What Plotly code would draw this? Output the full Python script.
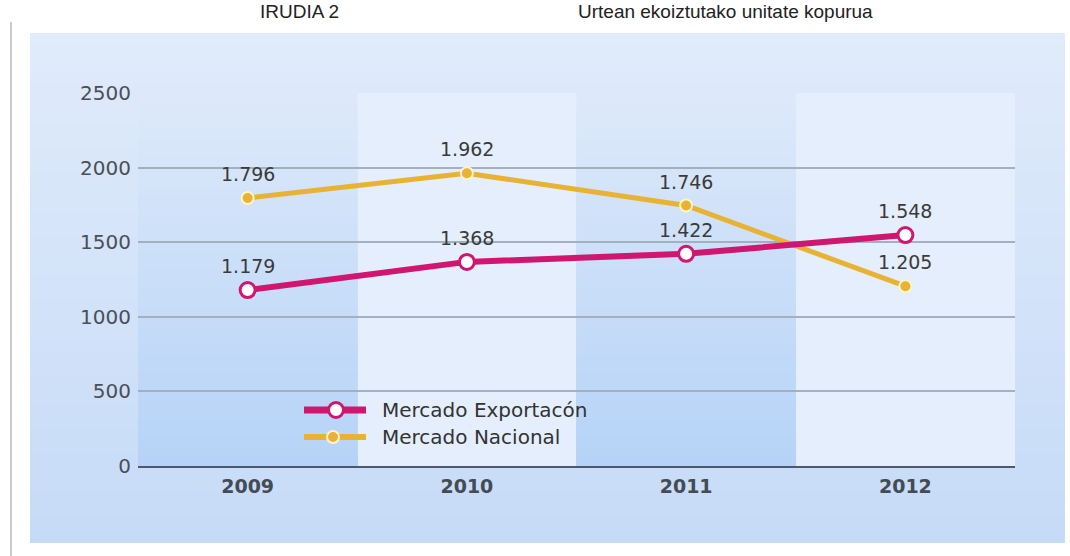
import plotly.graph_objects as go

# Units produced per year, by market
years = ["2009", "2010", "2011", "2012"]
export_units = [1179, 1368, 1422, 1548]
national_units = [1796, 1962, 1746, 1205]
y_ticks = [0, 500, 1000, 1500, 2000, 2500]
series_names = ["Mercado Exportacón", "Mercado Nacional"]

W, H = 1070, 556
ML, MR, MT, MB = 138, 55, 93, 90
PW, PH = W - ML - MR, H - MT - MB

MAGENTA = "#d0166f"
YELLOW = "#e8b233"
FONT = "DejaVu Sans, Verdana, sans-serif"
TITLE_FONT = "Liberation Sans, Arial, sans-serif"


def px(x):
    return (x - ML) / PW


def py(y):
    return (H - MB - y) / PH


def mix(c1, c2, t):
    a = [int(c1[i:i + 2], 16) for i in (1, 3, 5)]
    b = [int(c2[i:i + 2], 16) for i in (1, 3, 5)]
    return "#" + "".join(f"{round(a[k] + (b[k] - a[k]) * t):02x}" for k in range(3))


shapes = []

# outer panel with a soft vertical gradient; each strip runs to the bottom
# so the next one covers its lower edge and no seams show
n_strips = 40
x0p, x1p = px(30), px(1065)
top_px, bot_px = 33, 543
for i in range(n_strips):
    ya = top_px + (bot_px - top_px) * i / n_strips
    shapes.append(dict(type="rect", xref="paper", yref="paper", layer="below",
                       x0=x0p, x1=x1p, y0=py(bot_px), y1=py(ya),
                       fillcolor=mix("#e0ebfb", "#c6dbf7", i / (n_strips - 1)),
                       line=dict(width=0)))
# thin frame line on the left
shapes.append(dict(type="line", xref="paper", yref="paper", layer="below",
                   x0=px(11), x1=px(11), y0=py(556), y1=py(22),
                   line=dict(color="#c9c9c9", width=2)))

# light plot background
shapes.append(dict(type="rect", xref="x", yref="y", layer="below",
                   x0=-0.5, x1=len(years) - 0.5, y0=0, y1=y_ticks[-1],
                   fillcolor="#e4eefc", line=dict(width=0)))

# darker alternating column bands (2009, 2011) with gradient
for idx in range(0, len(years), 2):
    for i in range(n_strips):
        ya = y_ticks[-1] * (1 - i / n_strips)
        shapes.append(dict(type="rect", xref="x", yref="y", layer="below",
                           x0=idx - 0.5, x1=idx + 0.5, y0=0, y1=ya,
                           fillcolor=mix("#dde9fa", "#b6d3f7", i / (n_strips - 1)),
                           line=dict(width=0)))

fig = go.Figure()
xs = list(range(len(years)))

fig.add_trace(go.Scatter(
    x=xs, y=national_units, mode="lines+markers", name=series_names[1],
    line=dict(color=YELLOW, width=5),
    marker=dict(size=12, color=YELLOW, line=dict(color="#fff4c8", width=2)),
    cliponaxis=False))
fig.add_trace(go.Scatter(
    x=xs, y=export_units, mode="lines+markers", name=series_names[0],
    line=dict(color=MAGENTA, width=6),
    marker=dict(size=15, color="#ffffff", line=dict(color=MAGENTA, width=3)),
    cliponaxis=False))


def fmt(v):
    return f"{v:,}".replace(",", ".")


annotations = []
for series in (export_units, national_units):
    for x, v in zip(xs, series):
        annotations.append(dict(x=x, y=v, xref="x", yref="y", text=fmt(v),
                                showarrow=False, yshift=24,
                                font=dict(family=FONT, size=19, color="#3a3a3a")))

# hand-drawn legend
legend_rows = [(410, MAGENTA, 6, 15, "#ffffff", MAGENTA, 3, 336),
               (437, YELLOW, 5, 12, YELLOW, "#fff4c8", 2, 333)]
for (yrow, col, lw, msize, mfill, mline, mlw, mx), name in zip(legend_rows, series_names):
    shapes.append(dict(type="line", xref="paper", yref="paper",
                       x0=px(304), x1=px(366), y0=py(yrow), y1=py(yrow),
                       line=dict(color=col, width=lw + 1)))
    shapes.append(dict(type="circle", xref="paper", yref="paper",
                       xsizemode="pixel", ysizemode="pixel",
                       xanchor=px(mx), yanchor=py(yrow),
                       x0=-msize / 2, x1=msize / 2, y0=-msize / 2, y1=msize / 2,
                       fillcolor=mfill, line=dict(color=mline, width=mlw)))
    annotations.append(dict(x=px(380), y=py(yrow), xref="paper", yref="paper",
                            text=name, showarrow=False, xanchor="left", yanchor="middle",
                            font=dict(family=FONT, size=20, color="#333333")))

# heading along the top edge
for text, cx in (("IRUDIA 2", 299), ("Urtean ekoiztutako unitate kopurua", 725)):
    annotations.append(dict(x=px(cx), y=py(0), xref="paper", yref="paper",
                            text=text, showarrow=False, xanchor="center",
                            yanchor="top", borderpad=0,
                            font=dict(family=TITLE_FONT, size=19, color="#222222")))

fig.update_layout(
    width=W, height=H,
    margin=dict(l=ML, r=MR, t=MT, b=MB),
    paper_bgcolor="#ffffff",
    plot_bgcolor="rgba(0,0,0,0)",
    showlegend=False,
    shapes=shapes,
    annotations=annotations,
    xaxis=dict(range=[-0.5, len(years) - 0.5], tickvals=xs,
               ticktext=[f"<b>{y}</b>" for y in years],
               showgrid=False, zeroline=False,
               showline=True, linecolor="#4d5868", linewidth=2,
               tickfont=dict(family=FONT, size=19, color="#444b55"),
               ticks="", ticklabelstandoff=2),
    yaxis=dict(range=[0, y_ticks[-1]], tickvals=y_ticks,
               showgrid=True, gridcolor="#a3b0c0", gridwidth=1.5,
               zeroline=False, showline=False, ticks="",
               tickfont=dict(family=FONT, size=20, color="#4a4f58"),
               ticklabelstandoff=6),
)

fig.write_html("out.html")
